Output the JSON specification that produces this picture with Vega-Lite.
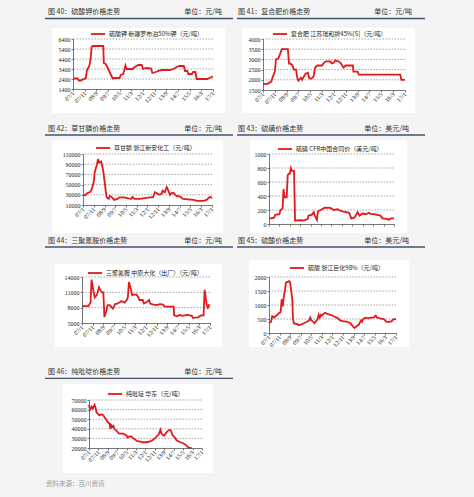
{
"$schema": "https://vega.github.io/schema/vega-lite/v6.json",
"background": "#f4f4f4",
"padding": 0,
"spacing": 0,
"resolve": {"scale": {"color": "independent"}},
"config": {
  "font": "Noto Sans CJK SC",
  "view": {"stroke": null},
  "axis": {"labelFont": "Liberation Serif", "labelFontSize": 6, "labelColor": "#222", "domainColor": "#555", "domainWidth": 0.8, "tickColor": "#555", "tickSize": 2, "tickWidth": 0.8, "labelPadding": 1, "grid": false, "labelOverlap": false, "labelFlush": false},
  "legend": {"symbolType": "stroke", "symbolStrokeWidth": 2.5, "symbolSize": 200, "labelFontSize": 6, "labelColor": "#222", "labelLimit": 300, "padding": 0, "labelOffset": 3},
  "line": {"strokeWidth": 1.8},
  "rule": {"color": "#666", "strokeWidth": 0.6, "strokeDash": [1.5, 1.5]},
  "text": {"fontSize": 7, "color": "#333"}
},
"datasets": {
  "p40": [{"d":"2007/01/01","v":2450},{"d":"2007/05/01","v":2450},{"d":"2007/06/01","v":2250},{"d":"2007/08/01","v":2250},{"d":"2007/09/01","v":2350},{"d":"2007/11/01","v":2400},{"d":"2007/12/01","v":2500},{"d":"2008/01/01","v":3300},{"d":"2008/02/01","v":3500},{"d":"2008/03/01","v":3700},{"d":"2008/04/01","v":4300},{"d":"2008/05/01","v":5600},{"d":"2008/06/01","v":5700},{"d":"2009/03/01","v":5700},{"d":"2009/03/15","v":4000},{"d":"2009/05/01","v":3900},{"d":"2009/06/01","v":3700},{"d":"2009/08/01","v":3200},{"d":"2009/10/01","v":2700},{"d":"2009/11/01","v":2450},{"d":"2010/01/01","v":2500},{"d":"2010/05/01","v":2500},{"d":"2010/06/01","v":2800},{"d":"2010/08/01","v":2900},{"d":"2010/09/01","v":3300},{"d":"2010/10/01","v":3750},{"d":"2010/11/01","v":3400},{"d":"2011/04/01","v":3400},{"d":"2011/06/01","v":3600},{"d":"2011/09/01","v":3800},{"d":"2011/12/01","v":3800},{"d":"2012/01/01","v":3400},{"d":"2012/04/01","v":3500},{"d":"2012/08/01","v":3450},{"d":"2012/09/01","v":3000},{"d":"2012/12/01","v":3100},{"d":"2013/03/01","v":3250},{"d":"2013/05/01","v":3300},{"d":"2013/12/01","v":3300},{"d":"2014/03/01","v":3400},{"d":"2014/06/01","v":3600},{"d":"2014/08/01","v":3700},{"d":"2014/12/01","v":3700},{"d":"2015/01/01","v":3200},{"d":"2015/03/01","v":3200},{"d":"2015/04/01","v":2900},{"d":"2015/07/01","v":2900},{"d":"2015/08/01","v":3100},{"d":"2015/10/01","v":3100},{"d":"2015/11/01","v":2400},{"d":"2016/08/01","v":2400},{"d":"2016/10/01","v":2500},{"d":"2017/01/01","v":2650}],
  "p41": [{"d":"2007/01/01","v":1800},{"d":"2007/05/01","v":1800},{"d":"2007/06/01","v":1850},{"d":"2007/08/01","v":1900},{"d":"2007/09/01","v":2100},{"d":"2007/11/01","v":2400},{"d":"2007/12/01","v":3000},{"d":"2008/02/01","v":3050},{"d":"2008/03/01","v":3200},{"d":"2008/05/01","v":3500},{"d":"2008/10/01","v":3500},{"d":"2008/11/01","v":2800},{"d":"2008/12/01","v":2800},{"d":"2009/02/01","v":2700},{"d":"2009/03/01","v":2500},{"d":"2009/05/01","v":2500},{"d":"2009/06/01","v":2100},{"d":"2009/07/01","v":1950},{"d":"2009/09/01","v":2100},{"d":"2009/10/01","v":2000},{"d":"2009/11/01","v":2100},{"d":"2010/01/01","v":2300},{"d":"2010/03/01","v":2350},{"d":"2010/04/01","v":2100},{"d":"2010/05/01","v":2050},{"d":"2010/07/01","v":2100},{"d":"2010/08/01","v":2200},{"d":"2010/09/01","v":2600},{"d":"2010/11/01","v":2700},{"d":"2011/03/01","v":2700},{"d":"2011/04/01","v":2800},{"d":"2011/06/01","v":2900},{"d":"2011/10/01","v":2900},{"d":"2011/11/01","v":2800},{"d":"2012/01/01","v":2850},{"d":"2012/02/01","v":2950},{"d":"2012/05/01","v":2900},{"d":"2012/07/01","v":2800},{"d":"2012/09/01","v":2600},{"d":"2012/11/01","v":2700},{"d":"2013/05/01","v":2700},{"d":"2013/05/15","v":2400},{"d":"2013/09/01","v":2400},{"d":"2013/10/01","v":2250},{"d":"2016/09/01","v":2250},{"d":"2016/10/01","v":2000},{"d":"2017/01/01","v":2000}],
  "p42": [{"d":"2007/01/01","v":31000},{"d":"2007/03/01","v":29000},{"d":"2007/05/01","v":33000},{"d":"2007/08/01","v":36000},{"d":"2007/09/01","v":40000},{"d":"2007/11/01","v":55000},{"d":"2007/12/01","v":75000},{"d":"2008/02/01","v":90000},{"d":"2008/03/01","v":100000},{"d":"2008/04/01","v":93000},{"d":"2008/06/01","v":95000},{"d":"2008/07/01","v":85000},{"d":"2008/08/01","v":75000},{"d":"2008/10/01","v":40000},{"d":"2008/11/01","v":25000},{"d":"2009/01/01","v":22000},{"d":"2009/02/01","v":28000},{"d":"2009/04/01","v":25000},{"d":"2009/06/01","v":20000},{"d":"2009/09/01","v":22000},{"d":"2009/11/01","v":25000},{"d":"2010/03/01","v":25000},{"d":"2010/07/01","v":23000},{"d":"2010/10/01","v":22000},{"d":"2010/11/01","v":26000},{"d":"2011/01/01","v":22000},{"d":"2011/06/01","v":22000},{"d":"2011/09/01","v":23000},{"d":"2011/12/01","v":24000},{"d":"2012/03/01","v":25000},{"d":"2012/06/01","v":25000},{"d":"2012/08/01","v":35000},{"d":"2012/09/01","v":34000},{"d":"2012/12/01","v":30000},{"d":"2013/02/01","v":32000},{"d":"2013/03/01","v":38000},{"d":"2013/05/01","v":35000},{"d":"2013/07/01","v":45000},{"d":"2013/08/01","v":40000},{"d":"2013/10/01","v":30000},{"d":"2013/11/01","v":33000},{"d":"2014/01/01","v":34000},{"d":"2014/03/01","v":30000},{"d":"2014/04/01","v":28000},{"d":"2014/07/01","v":27000},{"d":"2014/10/01","v":22000},{"d":"2015/03/01","v":21000},{"d":"2015/08/01","v":20000},{"d":"2015/11/01","v":18000},{"d":"2016/02/01","v":18000},{"d":"2016/05/01","v":18000},{"d":"2016/08/01","v":20000},{"d":"2016/11/01","v":26000},{"d":"2017/01/01","v":24000}],
  "p43": [{"d":"2007/01/01","v":80},{"d":"2007/03/01","v":80},{"d":"2007/06/01","v":90},{"d":"2007/07/01","v":130},{"d":"2007/11/01","v":140},{"d":"2007/12/01","v":200},{"d":"2008/02/01","v":220},{"d":"2008/03/01","v":500},{"d":"2008/04/01","v":380},{"d":"2008/06/01","v":380},{"d":"2008/07/01","v":700},{"d":"2008/08/01","v":720},{"d":"2008/09/01","v":720},{"d":"2008/10/01","v":800},{"d":"2008/11/01","v":760},{"d":"2009/01/01","v":760},{"d":"2009/02/01","v":50},{"d":"2009/04/01","v":50},{"d":"2009/07/01","v":55},{"d":"2009/10/01","v":50},{"d":"2010/02/01","v":70},{"d":"2010/03/01","v":120},{"d":"2010/06/01","v":130},{"d":"2010/08/01","v":170},{"d":"2010/09/01","v":120},{"d":"2010/11/01","v":60},{"d":"2010/12/01","v":180},{"d":"2011/01/01","v":190},{"d":"2011/03/01","v":200},{"d":"2011/04/01","v":210},{"d":"2011/06/01","v":230},{"d":"2011/09/01","v":235},{"d":"2011/12/01","v":230},{"d":"2012/02/01","v":210},{"d":"2012/03/01","v":200},{"d":"2012/07/01","v":210},{"d":"2012/08/01","v":200},{"d":"2012/11/01","v":180},{"d":"2013/03/01","v":170},{"d":"2013/06/01","v":160},{"d":"2013/08/01","v":80},{"d":"2013/11/01","v":90},{"d":"2014/01/01","v":140},{"d":"2014/02/01","v":170},{"d":"2014/04/01","v":120},{"d":"2014/07/01","v":150},{"d":"2014/10/01","v":140},{"d":"2015/01/01","v":160},{"d":"2015/03/01","v":140},{"d":"2015/06/01","v":140},{"d":"2015/09/01","v":130},{"d":"2015/12/01","v":120},{"d":"2016/02/01","v":80},{"d":"2016/07/01","v":70},{"d":"2016/08/01","v":60},{"d":"2016/10/01","v":80},{"d":"2017/01/01","v":80}],
  "p44": [{"d":"2007/01/01","v":8300},{"d":"2007/07/01","v":8300},{"d":"2007/09/01","v":9000},{"d":"2007/10/01","v":13500},{"d":"2007/12/01","v":11000},{"d":"2008/01/01","v":10000},{"d":"2008/03/01","v":10500},{"d":"2008/05/01","v":12000},{"d":"2008/06/01","v":11500},{"d":"2008/08/01","v":11000},{"d":"2008/09/01","v":11000},{"d":"2008/10/01","v":6200},{"d":"2008/12/01","v":7500},{"d":"2009/01/01","v":8500},{"d":"2009/03/01","v":8500},{"d":"2009/06/01","v":7800},{"d":"2009/07/01","v":8200},{"d":"2009/08/01","v":8700},{"d":"2009/10/01","v":8800},{"d":"2009/12/01","v":9000},{"d":"2010/02/01","v":9300},{"d":"2010/05/01","v":9000},{"d":"2010/07/01","v":9500},{"d":"2010/08/01","v":10000},{"d":"2010/09/01","v":13000},{"d":"2010/11/01","v":11500},{"d":"2010/12/01","v":10500},{"d":"2011/04/01","v":10600},{"d":"2011/06/01","v":10000},{"d":"2011/07/01","v":9500},{"d":"2011/10/01","v":9500},{"d":"2011/11/01","v":8800},{"d":"2012/01/01","v":9000},{"d":"2012/04/01","v":9500},{"d":"2012/05/01","v":8800},{"d":"2012/08/01","v":8600},{"d":"2012/11/01","v":8500},{"d":"2013/02/01","v":8700},{"d":"2013/05/01","v":8600},{"d":"2013/06/01","v":8300},{"d":"2013/08/01","v":8200},{"d":"2014/03/01","v":8200},{"d":"2014/03/15","v":6500},{"d":"2014/06/01","v":6300},{"d":"2014/09/01","v":6600},{"d":"2014/10/01","v":6400},{"d":"2015/01/01","v":6500},{"d":"2015/04/01","v":6600},{"d":"2015/08/01","v":6400},{"d":"2015/09/01","v":6000},{"d":"2016/02/01","v":6100},{"d":"2016/03/01","v":6300},{"d":"2016/05/01","v":6500},{"d":"2016/07/01","v":6500},{"d":"2016/08/01","v":11500},{"d":"2016/10/01","v":8500},{"d":"2016/11/01","v":8000},{"d":"2016/12/01","v":8500},{"d":"2017/01/01","v":8400}],
  "p45": [{"d":"2007/01/01","v":350},{"d":"2007/03/01","v":400},{"d":"2007/04/01","v":600},{"d":"2007/06/01","v":550},{"d":"2007/07/01","v":600},{"d":"2007/09/01","v":650},{"d":"2007/10/01","v":700},{"d":"2007/12/01","v":750},{"d":"2008/01/01","v":1200},{"d":"2008/02/01","v":950},{"d":"2008/03/01","v":1300},{"d":"2008/04/01","v":1500},{"d":"2008/05/01","v":1800},{"d":"2008/08/01","v":1850},{"d":"2008/09/01","v":1800},{"d":"2008/10/01","v":1500},{"d":"2008/11/01","v":1200},{"d":"2008/11/20","v":500},{"d":"2008/12/15","v":350},{"d":"2009/02/01","v":330},{"d":"2009/04/01","v":320},{"d":"2009/05/01","v":280},{"d":"2009/07/01","v":300},{"d":"2009/10/01","v":350},{"d":"2010/01/01","v":400},{"d":"2010/03/01","v":450},{"d":"2010/04/01","v":550},{"d":"2010/05/01","v":450},{"d":"2010/07/01","v":400},{"d":"2010/08/01","v":350},{"d":"2010/11/01","v":500},{"d":"2010/12/01","v":650},{"d":"2011/01/01","v":550},{"d":"2011/02/01","v":650},{"d":"2011/03/01","v":620},{"d":"2011/05/01","v":700},{"d":"2011/06/01","v":720},{"d":"2011/08/01","v":680},{"d":"2011/11/01","v":650},{"d":"2012/01/01","v":620},{"d":"2012/02/01","v":600},{"d":"2012/05/01","v":550},{"d":"2012/07/01","v":500},{"d":"2012/08/01","v":450},{"d":"2012/11/01","v":420},{"d":"2013/03/01","v":400},{"d":"2013/06/01","v":350},{"d":"2013/07/01","v":300},{"d":"2013/09/01","v":200},{"d":"2013/10/01","v":180},{"d":"2013/12/01","v":250},{"d":"2014/02/01","v":300},{"d":"2014/03/01","v":380},{"d":"2014/04/01","v":450},{"d":"2014/05/01","v":400},{"d":"2014/06/01","v":500},{"d":"2014/08/01","v":550},{"d":"2014/11/01","v":530},{"d":"2015/02/01","v":550},{"d":"2015/04/01","v":560},{"d":"2015/06/01","v":620},{"d":"2015/07/01","v":550},{"d":"2015/10/01","v":520},{"d":"2016/01/01","v":500},{"d":"2016/02/01","v":480},{"d":"2016/04/01","v":400},{"d":"2016/07/01","v":400},{"d":"2016/09/01","v":420},{"d":"2016/10/01","v":480},{"d":"2017/01/01","v":500}],
  "p46": [{"d":"2007/01/01","v":65000},{"d":"2007/02/01","v":60000},{"d":"2007/04/01","v":63000},{"d":"2007/05/01","v":61000},{"d":"2007/07/01","v":65000},{"d":"2007/08/01","v":62000},{"d":"2007/09/01","v":57000},{"d":"2007/11/01","v":55000},{"d":"2007/12/01","v":54000},{"d":"2008/02/01","v":55000},{"d":"2008/03/01","v":55000},{"d":"2008/05/01","v":53000},{"d":"2008/07/01","v":50000},{"d":"2008/09/01","v":47000},{"d":"2008/11/01","v":45000},{"d":"2008/11/20","v":40000},{"d":"2008/12/15","v":44000},{"d":"2009/02/01","v":42000},{"d":"2009/03/01","v":43000},{"d":"2009/04/01","v":40000},{"d":"2009/06/01","v":38000},{"d":"2009/08/01","v":36000},{"d":"2009/09/01","v":35000},{"d":"2010/01/01","v":35000},{"d":"2010/03/01","v":34000},{"d":"2010/05/01","v":33000},{"d":"2010/06/01","v":31000},{"d":"2010/08/01","v":32000},{"d":"2010/10/01","v":32000},{"d":"2010/12/01","v":30000},{"d":"2011/03/01","v":28000},{"d":"2011/05/01","v":27000},{"d":"2011/07/01","v":27000},{"d":"2011/10/01","v":26000},{"d":"2012/02/01","v":26000},{"d":"2012/06/01","v":27000},{"d":"2012/09/01","v":28500},{"d":"2012/12/01","v":31000},{"d":"2013/03/01","v":34000},{"d":"2013/05/01","v":39000},{"d":"2013/06/01","v":35000},{"d":"2013/08/01","v":33000},{"d":"2013/09/01","v":33000},{"d":"2013/11/01","v":36000},{"d":"2014/01/01","v":38000},{"d":"2014/03/01","v":39000},{"d":"2014/04/01","v":38000},{"d":"2014/06/01","v":33000},{"d":"2014/08/01","v":31000},{"d":"2014/10/01","v":28000},{"d":"2015/02/01","v":26000},{"d":"2015/05/01","v":25000},{"d":"2015/08/01","v":23000},{"d":"2015/10/01","v":21000},{"d":"2015/12/01","v":20000},{"d":"2016/02/01","v":20000}]
},
"vconcat": [
 {"spacing": 0, "bounds": "flush", "resolve": {"scale": {"color": "independent"}}, "hconcat": [
  {"width": 73, "height": 1, "data": {"values": []}, "mark": "point"},
  {"width": 140, "height": 50, "resolve": {"axis": {"x": "independent", "y": "independent"}}, "layer": [
    {"data": {"values": [{}]}, "mark": {"type": "rect", "opacity": 0}, "encoding": {"x": {"datum": {"year": 2007, "month": 1, "date": -860}, "type": "temporal", "axis": null}, "x2": {"datum": {"year": 2007, "month": 1, "date": 4228}}, "y": {"datum": 10250, "type": "quantitative", "axis": null}, "y2": {"datum": -1650}}},
    {"data": {"values": [{}]}, "mark": {"type": "rect", "fill": "#ffffff"}, "encoding": {"x": {"datum": {"year": 2007, "month": 1, "date": -547}, "type": "temporal", "axis": null}, "x2": {"datum": {"year": 2007, "month": 1, "date": 3967}}, "y": {"datum": 7500, "type": "quantitative", "axis": null}, "y2": {"datum": -1000}}},
    {"data": {"values": [{"g": 2400}, {"g": 3400}, {"g": 4400}, {"g": 5400}, {"g": 6400}]}, "mark": {"type": "rule"}, "encoding": {"y": {"field": "g", "type": "quantitative", "axis": null}}},
    {"data": {"values": [{}]}, "mark": {"type": "rule", "color": "#44546a", "strokeWidth": 1.3, "strokeDash": []}, "encoding": {"x": {"datum": {"year": 2007, "month": 1, "date": -730}, "type": "temporal", "axis": null}, "x2": {"datum": {"year": 2007, "month": 1, "date": 4176}}, "y": {"datum": 8450, "type": "quantitative", "axis": null}}},
    {"data": {"values": [{"t": "图 40：硫酸钾价格走势"}]}, "mark": {"type": "text", "align": "left", "baseline": "middle"}, "encoding": {"x": {"datum": {"year": 2007, "month": 1, "date": -651}, "type": "temporal", "axis": null}, "y": {"datum": 9150, "type": "quantitative", "axis": null}, "text": {"field": "t"}}},
    {"data": {"values": [{"t": "单位：元/吨"}]}, "mark": {"type": "text", "align": "right", "baseline": "middle"}, "encoding": {"x": {"datum": {"year": 2007, "month": 1, "date": 3889}, "type": "temporal", "axis": null}, "y": {"datum": 9150, "type": "quantitative", "axis": null}, "text": {"field": "t"}}},
    {"data": {"name": "p40"}, "mark": {"type": "line"}, "encoding": {
      "x": {"field": "d", "type": "temporal", "scale": {"domain": [{"year": 2007, "month": 1, "date": 1}, {"year": 2017, "month": 1, "date": 1}], "nice": false}, "axis": {"zindex": 2, "title": null, "format": "%y/%-m", "labelOverlap": false, "labelFlush": false, "labelAngle": -45, "labelAlign": "right", "labelBaseline": "middle", "grid": false, "values": [{"year":2007,"month":1},{"year":2007,"month":11},{"year":2008,"month":9},{"year":2009,"month":7},{"year":2010,"month":5},{"year":2011,"month":3},{"year":2012,"month":1},{"year":2012,"month":11},{"year":2013,"month":9},{"year":2014,"month":7},{"year":2015,"month":5},{"year":2016,"month":3},{"year":2017,"month":1}]}},
      "y": {"field": "v", "type": "quantitative", "scale": {"domain": [1400, 6400], "nice": false, "zero": false}, "axis": {"zindex": 2, "title": null, "format": "d", "labelOverlap": false, "labelFlush": false, "grid": false, "values": [1400, 2400, 3400, 4400, 5400, 6400]}},
      "color": {"datum": "硫酸钾 新疆罗布泊50%钾（元/吨）", "scale": {"range": ["#e3191c"]}, "legend": {"title": null, "orient": "none", "legendX": 17, "legendY": -13}}}}
  ]},
  {"width": 50, "height": 1, "data": {"values": []}, "mark": "point"},
  {"width": 142, "height": 51, "resolve": {"axis": {"x": "independent", "y": "independent"}}, "layer": [
    {"data": {"values": [{}]}, "mark": {"type": "rect", "opacity": 0}, "encoding": {"x": {"datum": {"year": 2007, "month": 1, "date": -694}, "type": "temporal", "axis": null}, "x2": {"datum": {"year": 2007, "month": 1, "date": 5416}}, "y": {"datum": 5887, "type": "quantitative", "axis": null}, "y2": {"datum": 54}}},
    {"data": {"values": [{}]}, "mark": {"type": "rect", "fill": "#ffffff"}, "encoding": {"x": {"datum": {"year": 2007, "month": 1, "date": -539}, "type": "temporal", "axis": null}, "x2": {"datum": {"year": 2007, "month": 1, "date": 3911}}, "y": {"datum": 4539, "type": "quantitative", "axis": null}, "y2": {"datum": 372}}},
    {"data": {"values": [{"g": 2000}, {"g": 2500}, {"g": 3000}, {"g": 3500}, {"g": 4000}]}, "mark": {"type": "rule"}, "encoding": {"y": {"field": "g", "type": "quantitative", "axis": null}}},
    {"data": {"values": [{}]}, "mark": {"type": "rule", "color": "#44546a", "strokeWidth": 1.3, "strokeDash": []}, "encoding": {"x": {"datum": {"year": 2007, "month": 1, "date": -668}, "type": "temporal", "axis": null}, "x2": {"datum": {"year": 2007, "month": 1, "date": 4168}}, "y": {"datum": 5005, "type": "quantitative", "axis": null}}},
    {"data": {"values": [{"t": "图 41：复合肥价格走势"}]}, "mark": {"type": "text", "align": "left", "baseline": "middle"}, "encoding": {"x": {"datum": {"year": 2007, "month": 1, "date": -642}, "type": "temporal", "axis": null}, "y": {"datum": 5348, "type": "quantitative", "axis": null}, "text": {"field": "t"}}},
    {"data": {"values": [{"t": "单位：元/吨"}]}, "mark": {"type": "text", "align": "right", "baseline": "middle"}, "encoding": {"x": {"datum": {"year": 2007, "month": 1, "date": 3834}, "type": "temporal", "axis": null}, "y": {"datum": 5348, "type": "quantitative", "axis": null}, "text": {"field": "t"}}},
    {"data": {"name": "p41"}, "mark": {"type": "line"}, "encoding": {
      "x": {"field": "d", "type": "temporal", "scale": {"domain": [{"year": 2007, "month": 1, "date": 1}, {"year": 2017, "month": 1, "date": 1}], "nice": false}, "axis": {"zindex": 2, "title": null, "format": "%y/%-m", "labelOverlap": false, "labelFlush": false, "labelAngle": -45, "labelAlign": "right", "labelBaseline": "middle", "grid": false, "values": [{"year":2007,"month":1},{"year":2007,"month":11},{"year":2008,"month":9},{"year":2009,"month":7},{"year":2010,"month":5},{"year":2011,"month":3},{"year":2012,"month":1},{"year":2012,"month":11},{"year":2013,"month":9},{"year":2014,"month":7},{"year":2015,"month":5},{"year":2016,"month":3},{"year":2017,"month":1}]}},
      "y": {"field": "v", "type": "quantitative", "scale": {"domain": [1500, 4000], "nice": false, "zero": false}, "axis": {"zindex": 2, "title": null, "format": "d", "labelOverlap": false, "labelFlush": false, "grid": false, "values": [1500, 2000, 2500, 3000, 3500, 4000]}},
      "color": {"datum": "复合肥 江苏瑞和牌45%[S]（元/吨）", "scale": {"range": ["#e3191c"]}, "legend": {"title": null, "orient": "none", "legendX": 9, "legendY": -13}}}}
  ]}
 ]},
 {"spacing": 0, "bounds": "flush", "resolve": {"scale": {"color": "independent"}}, "hconcat": [
  {"width": 83, "height": 1, "data": {"values": []}, "mark": "point"},
  {"width": 129, "height": 51, "resolve": {"axis": {"x": "independent", "y": "independent"}}, "layer": [
    {"data": {"values": [{}]}, "mark": {"type": "rect", "opacity": 0}, "encoding": {"x": {"datum": {"year": 2007, "month": 1, "date": -1217}, "type": "temporal", "axis": null}, "x2": {"datum": {"year": 2007, "month": 1, "date": 4305}}, "y": {"datum": 175687, "type": "quantitative", "axis": null}, "y2": {"datum": -45882}}},
    {"data": {"values": [{}]}, "mark": {"type": "rect", "fill": "#ffffff"}, "encoding": {"x": {"datum": {"year": 2007, "month": 1, "date": -877}, "type": "temporal", "axis": null}, "x2": {"datum": {"year": 2007, "month": 1, "date": 3965}}, "y": {"datum": 137451, "type": "quantitative", "axis": null}, "y2": {"datum": -44902}}},
    {"data": {"values": [{"g": 30000}, {"g": 50000}, {"g": 70000}, {"g": 90000}, {"g": 110000}]}, "mark": {"type": "rule"}, "encoding": {"y": {"field": "g", "type": "quantitative", "axis": null}}},
    {"data": {"values": [{}]}, "mark": {"type": "rule", "color": "#44546a", "strokeWidth": 1.3, "strokeDash": []}, "encoding": {"x": {"datum": {"year": 2007, "month": 1, "date": -1075}, "type": "temporal", "axis": null}, "x2": {"datum": {"year": 2007, "month": 1, "date": 4249}}, "y": {"datum": 147255, "type": "quantitative", "axis": null}}},
    {"data": {"values": [{"t": "图 42：草甘膦价格走势"}]}, "mark": {"type": "text", "align": "left", "baseline": "middle"}, "encoding": {"x": {"datum": {"year": 2007, "month": 1, "date": -990}, "type": "temporal", "axis": null}, "y": {"datum": 158432, "type": "quantitative", "axis": null}, "text": {"field": "t"}}},
    {"data": {"values": [{"t": "单位：元/吨"}]}, "mark": {"type": "text", "align": "right", "baseline": "middle"}, "encoding": {"x": {"datum": {"year": 2007, "month": 1, "date": 3937}, "type": "temporal", "axis": null}, "y": {"datum": 158432, "type": "quantitative", "axis": null}, "text": {"field": "t"}}},
    {"data": {"name": "p42"}, "mark": {"type": "line"}, "encoding": {
      "x": {"field": "d", "type": "temporal", "scale": {"domain": [{"year": 2007, "month": 1, "date": 1}, {"year": 2017, "month": 1, "date": 1}], "nice": false}, "axis": {"zindex": 2, "title": null, "format": "%y/%-m", "labelOverlap": false, "labelFlush": false, "labelAngle": -45, "labelAlign": "right", "labelBaseline": "middle", "grid": false, "values": [{"year":2007,"month":1},{"year":2007,"month":11},{"year":2008,"month":9},{"year":2009,"month":7},{"year":2010,"month":5},{"year":2011,"month":3},{"year":2012,"month":1},{"year":2012,"month":11},{"year":2013,"month":9},{"year":2014,"month":7},{"year":2015,"month":5},{"year":2016,"month":3},{"year":2017,"month":1}]}},
      "y": {"field": "v", "type": "quantitative", "scale": {"domain": [10000, 110000], "nice": false, "zero": false}, "axis": {"zindex": 2, "title": null, "format": "d", "labelOverlap": false, "labelFlush": false, "grid": false, "values": [10000, 30000, 50000, 70000, 90000, 110000]}},
      "color": {"datum": "草甘膦 浙江新安化工（元/吨）", "scale": {"range": ["#e3191c"]}, "legend": {"title": null, "orient": "none", "legendX": 12, "legendY": -14}}}}
  ]},
  {"width": 57, "height": 1, "data": {"values": []}, "mark": "point"},
  {"width": 125, "height": 70, "resolve": {"axis": {"x": "independent", "y": "independent"}}, "layer": [
    {"data": {"values": [{}]}, "mark": {"type": "rect", "opacity": 0}, "encoding": {"x": {"datum": {"year": 2007, "month": 1, "date": -963}, "type": "temporal", "axis": null}, "x2": {"datum": {"year": 2007, "month": 1, "date": 5977}}, "y": {"datum": 1478.6, "type": "quantitative", "axis": null}, "y2": {"datum": -135.7}}},
    {"data": {"values": [{}]}, "mark": {"type": "rect", "fill": "#ffffff"}, "encoding": {"x": {"datum": {"year": 2007, "month": 1, "date": -554}, "type": "temporal", "axis": null}, "x2": {"datum": {"year": 2007, "month": 1, "date": 4034}}, "y": {"datum": 1200, "type": "quantitative", "axis": null}, "y2": {"datum": -128.6}}},
    {"data": {"values": [{"g": 200}, {"g": 400}, {"g": 600}, {"g": 800}, {"g": 1000}]}, "mark": {"type": "rule"}, "encoding": {"y": {"field": "g", "type": "quantitative", "axis": null}}},
    {"data": {"values": [{}]}, "mark": {"type": "rule", "color": "#44546a", "strokeWidth": 1.3, "strokeDash": []}, "encoding": {"x": {"datum": {"year": 2007, "month": 1, "date": -934}, "type": "temporal", "axis": null}, "x2": {"datum": {"year": 2007, "month": 1, "date": 4560}}, "y": {"datum": 1271.4, "type": "quantitative", "axis": null}}},
    {"data": {"values": [{"t": "图 43：硫磺价格走势"}]}, "mark": {"type": "text", "align": "left", "baseline": "middle"}, "encoding": {"x": {"datum": {"year": 2007, "month": 1, "date": -905}, "type": "temporal", "axis": null}, "y": {"datum": 1352.9, "type": "quantitative", "axis": null}, "text": {"field": "t"}}},
    {"data": {"values": [{"t": "单位：美元/吨"}]}, "mark": {"type": "text", "align": "right", "baseline": "middle"}, "encoding": {"x": {"datum": {"year": 2007, "month": 1, "date": 4092}, "type": "temporal", "axis": null}, "y": {"datum": 1352.9, "type": "quantitative", "axis": null}, "text": {"field": "t"}}},
    {"data": {"name": "p43"}, "mark": {"type": "line"}, "encoding": {
      "x": {"field": "d", "type": "temporal", "scale": {"domain": [{"year": 2007, "month": 1, "date": 1}, {"year": 2017, "month": 1, "date": 1}], "nice": false}, "axis": {"zindex": 2, "title": null, "labels": false, "grid": false, "values": [{"year":2007,"month":1},{"year":2007,"month":11},{"year":2008,"month":9},{"year":2009,"month":7},{"year":2010,"month":5},{"year":2011,"month":3},{"year":2012,"month":1},{"year":2012,"month":11},{"year":2013,"month":9},{"year":2014,"month":7},{"year":2015,"month":5},{"year":2016,"month":3},{"year":2017,"month":1}]}},
      "y": {"field": "v", "type": "quantitative", "scale": {"domain": [0, 1000], "nice": false, "zero": false}, "axis": {"zindex": 2, "title": null, "format": "d", "labelOverlap": false, "labelFlush": false, "grid": false, "values": [0, 200, 400, 600, 800, 1000]}},
      "color": {"datum": "硫磺 CFR中国合同价（美元/吨）", "scale": {"range": ["#e3191c"]}, "legend": {"title": null, "orient": "none", "legendX": 8, "legendY": -13}}}}
  ]}
 ]},
 {"spacing": 0, "bounds": "flush", "resolve": {"scale": {"color": "independent"}}, "hconcat": [
  {"width": 82, "height": 1, "data": {"values": []}, "mark": "point"},
  {"width": 128, "height": 46, "resolve": {"axis": {"x": "independent", "y": "independent"}}, "layer": [
    {"data": {"values": [{}]}, "mark": {"type": "rect", "opacity": 0}, "encoding": {"x": {"datum": {"year": 2007, "month": 1, "date": -1198}, "type": "temporal", "axis": null}, "x2": {"datum": {"year": 2007, "month": 1, "date": 4367}}, "y": {"datum": 22315, "type": "quantitative", "axis": null}, "y2": {"datum": -1163}}},
    {"data": {"values": [{}]}, "mark": {"type": "rect", "fill": "#ffffff"}, "encoding": {"x": {"datum": {"year": 2007, "month": 1, "date": -770}, "type": "temporal", "axis": null}, "x2": {"datum": {"year": 2007, "month": 1, "date": 3996}}, "y": {"datum": 16543, "type": "quantitative", "axis": null}, "y2": {"datum": 304}}},
    {"data": {"values": [{"g": 8000}, {"g": 11000}, {"g": 14000}]}, "mark": {"type": "rule"}, "encoding": {"y": {"field": "g", "type": "quantitative", "axis": null}}},
    {"data": {"values": [{}]}, "mark": {"type": "rule", "color": "#44546a", "strokeWidth": 1.3, "strokeDash": []}, "encoding": {"x": {"datum": {"year": 2007, "month": 1, "date": -1055}, "type": "temporal", "axis": null}, "x2": {"datum": {"year": 2007, "month": 1, "date": 4310}}, "y": {"datum": 19870, "type": "quantitative", "axis": null}}},
    {"data": {"values": [{"t": "图 44：三聚氰胺价格走势"}]}, "mark": {"type": "text", "align": "left", "baseline": "middle"}, "encoding": {"x": {"datum": {"year": 2007, "month": 1, "date": -969}, "type": "temporal", "axis": null}, "y": {"datum": 20985, "type": "quantitative", "axis": null}, "text": {"field": "t"}}},
    {"data": {"values": [{"t": "单位：元/吨"}]}, "mark": {"type": "text", "align": "right", "baseline": "middle"}, "encoding": {"x": {"datum": {"year": 2007, "month": 1, "date": 3996}, "type": "temporal", "axis": null}, "y": {"datum": 20985, "type": "quantitative", "axis": null}, "text": {"field": "t"}}},
    {"data": {"name": "p44"}, "mark": {"type": "line"}, "encoding": {
      "x": {"field": "d", "type": "temporal", "scale": {"domain": [{"year": 2007, "month": 1, "date": 1}, {"year": 2017, "month": 1, "date": 1}], "nice": false}, "axis": {"zindex": 2, "title": null, "format": "%y/%-m", "labelOverlap": false, "labelFlush": false, "labelAngle": -45, "labelAlign": "right", "labelBaseline": "middle", "grid": false, "values": [{"year":2007,"month":1},{"year":2007,"month":11},{"year":2008,"month":9},{"year":2009,"month":7},{"year":2010,"month":5},{"year":2011,"month":3},{"year":2012,"month":1},{"year":2012,"month":11},{"year":2013,"month":9},{"year":2014,"month":7},{"year":2015,"month":5},{"year":2016,"month":3},{"year":2017,"month":1}]}},
      "y": {"field": "v", "type": "quantitative", "scale": {"domain": [5000, 14000], "nice": false, "zero": false}, "axis": {"zindex": 2, "title": null, "format": "d", "labelOverlap": false, "labelFlush": false, "grid": false, "values": [5000, 8000, 11000, 14000]}},
      "color": {"datum": "三聚氰胺 中原大化（出厂）（元/吨）", "scale": {"range": ["#e3191c"]}, "legend": {"title": null, "orient": "none", "legendX": 5, "legendY": -12}}}}
  ]},
  {"width": 59, "height": 1, "data": {"values": []}, "mark": "point"},
  {"width": 127, "height": 56, "resolve": {"axis": {"x": "independent", "y": "independent"}}, "layer": [
    {"data": {"values": [{}]}, "mark": {"type": "rect", "opacity": 0}, "encoding": {"x": {"datum": {"year": 2007, "month": 1, "date": -948}, "type": "temporal", "axis": null}, "x2": {"datum": {"year": 2007, "month": 1, "date": 5883}}, "y": {"datum": 3518, "type": "quantitative", "axis": null}, "y2": {"datum": -768}}},
    {"data": {"values": [{}]}, "mark": {"type": "rect", "fill": "#ffffff"}, "encoding": {"x": {"datum": {"year": 2007, "month": 1, "date": -574}, "type": "temporal", "axis": null}, "x2": {"datum": {"year": 2007, "month": 1, "date": 4028}}, "y": {"datum": 2607, "type": "quantitative", "axis": null}, "y2": {"datum": -500}}},
    {"data": {"values": [{"g": 500}, {"g": 1000}, {"g": 1500}, {"g": 2000}]}, "mark": {"type": "rule"}, "encoding": {"y": {"field": "g", "type": "quantitative", "axis": null}}},
    {"data": {"values": [{}]}, "mark": {"type": "rule", "color": "#44546a", "strokeWidth": 1.3, "strokeDash": []}, "encoding": {"x": {"datum": {"year": 2007, "month": 1, "date": -919}, "type": "temporal", "axis": null}, "x2": {"datum": {"year": 2007, "month": 1, "date": 4488}}, "y": {"datum": 3071, "type": "quantitative", "axis": null}}},
    {"data": {"values": [{"t": "图 45：硫酸价格走势"}]}, "mark": {"type": "text", "align": "left", "baseline": "middle"}, "encoding": {"x": {"datum": {"year": 2007, "month": 1, "date": -891}, "type": "temporal", "axis": null}, "y": {"datum": 3275, "type": "quantitative", "axis": null}, "text": {"field": "t"}}},
    {"data": {"values": [{"t": "单位：美元/吨"}]}, "mark": {"type": "text", "align": "right", "baseline": "middle"}, "encoding": {"x": {"datum": {"year": 2007, "month": 1, "date": 4028}, "type": "temporal", "axis": null}, "y": {"datum": 3275, "type": "quantitative", "axis": null}, "text": {"field": "t"}}},
    {"data": {"name": "p45"}, "mark": {"type": "line"}, "encoding": {
      "x": {"field": "d", "type": "temporal", "scale": {"domain": [{"year": 2007, "month": 1, "date": 1}, {"year": 2017, "month": 1, "date": 1}], "nice": false}, "axis": {"zindex": 2, "title": null, "format": "%y/%-m", "labelOverlap": false, "labelFlush": false, "labelAngle": -45, "labelAlign": "right", "labelBaseline": "middle", "grid": false, "values": [{"year":2007,"month":1},{"year":2007,"month":11},{"year":2008,"month":9},{"year":2009,"month":7},{"year":2010,"month":5},{"year":2011,"month":3},{"year":2012,"month":1},{"year":2012,"month":11},{"year":2013,"month":9},{"year":2014,"month":7},{"year":2015,"month":5},{"year":2016,"month":3},{"year":2017,"month":1}]}},
      "y": {"field": "v", "type": "quantitative", "scale": {"domain": [0, 2000], "nice": false, "zero": false}, "axis": {"zindex": 2, "title": null, "format": "d", "labelOverlap": false, "labelFlush": false, "grid": false, "values": [0, 500, 1000, 1500, 2000]}},
      "color": {"datum": "硫酸 浙江巨化98%（元/吨）", "scale": {"range": ["#e3191c"]}, "legend": {"title": null, "orient": "none", "legendX": 20, "legendY": -17}}}}
  ]}
 ]},
 {"spacing": 0, "bounds": "flush", "resolve": {"scale": {"color": "independent"}}, "hconcat": [
  {"width": 89, "height": 1, "data": {"values": []}, "mark": "point"},
  {"width": 113, "height": 48, "resolve": {"axis": {"x": "independent", "y": "independent"}}, "layer": [
    {"data": {"values": [{}]}, "mark": {"type": "rect", "opacity": 0}, "encoding": {"x": {"datum": {"year": 2007, "month": 1, "date": -1583}, "type": "temporal", "axis": null}, "x2": {"datum": {"year": 2007, "month": 1, "date": 12431}}, "y": {"datum": 116354, "type": "quantitative", "axis": null}, "y2": {"datum": -30521}}},
    {"data": {"values": [{}]}, "mark": {"type": "rect", "fill": "#ffffff"}, "encoding": {"x": {"datum": {"year": 2007, "month": 1, "date": -840}, "type": "temporal", "axis": null}, "x2": {"datum": {"year": 2007, "month": 1, "date": 4010}}, "y": {"datum": 86667, "type": "quantitative", "axis": null}, "y2": {"datum": -6042}}},
    {"data": {"values": [{"g": 30000}, {"g": 40000}, {"g": 50000}, {"g": 60000}, {"g": 70000}]}, "mark": {"type": "rule"}, "encoding": {"y": {"field": "g", "type": "quantitative", "axis": null}}},
    {"data": {"values": [{}]}, "mark": {"type": "rule", "color": "#44546a", "strokeWidth": 1.3, "strokeDash": []}, "encoding": {"x": {"datum": {"year": 2007, "month": 1, "date": -1421}, "type": "temporal", "axis": null}, "x2": {"datum": {"year": 2007, "month": 1, "date": 4656}}, "y": {"datum": 92604, "type": "quantitative", "axis": null}}},
    {"data": {"values": [{"t": "图 46：纯吡啶价格走势"}]}, "mark": {"type": "text", "align": "left", "baseline": "middle"}, "encoding": {"x": {"datum": {"year": 2007, "month": 1, "date": -1324}, "type": "temporal", "axis": null}, "y": {"datum": 99479, "type": "quantitative", "axis": null}, "text": {"field": "t"}}},
    {"data": {"values": [{"t": "单位：元/吨"}]}, "mark": {"type": "text", "align": "right", "baseline": "middle"}, "encoding": {"x": {"datum": {"year": 2007, "month": 1, "date": 4300}, "type": "temporal", "axis": null}, "y": {"datum": 99479, "type": "quantitative", "axis": null}, "text": {"field": "t"}}},
    {"data": {"values": [{"t": "资料来源：百川资讯"}]}, "mark": {"type": "text", "align": "left", "baseline": "middle", "color": "#999999", "fontSize": 6.5}, "encoding": {"x": {"datum": {"year": 2007, "month": 1, "date": -1389}, "type": "temporal", "axis": null}, "y": {"datum": -17500, "type": "quantitative", "axis": null}, "text": {"field": "t"}}},
    {"data": {"name": "p46"}, "mark": {"type": "line"}, "encoding": {
      "x": {"field": "d", "type": "temporal", "scale": {"domain": [{"year": 2007, "month": 1, "date": 1}, {"year": 2017, "month": 1, "date": 1}], "nice": false}, "axis": {"zindex": 2, "title": null, "format": "%y/%-m", "labelOverlap": false, "labelFlush": false, "labelAngle": -45, "labelAlign": "right", "labelBaseline": "middle", "grid": false, "values": [{"year":2007,"month":1},{"year":2007,"month":11},{"year":2008,"month":9},{"year":2009,"month":7},{"year":2010,"month":5},{"year":2011,"month":3},{"year":2012,"month":1},{"year":2012,"month":11},{"year":2013,"month":9},{"year":2014,"month":7},{"year":2015,"month":5},{"year":2016,"month":3},{"year":2017,"month":1}]}},
      "y": {"field": "v", "type": "quantitative", "scale": {"domain": [20000, 70000], "nice": false, "zero": false}, "axis": {"zindex": 2, "title": null, "format": "d", "labelOverlap": false, "labelFlush": false, "grid": false, "values": [20000, 30000, 40000, 50000, 60000, 70000]}},
      "color": {"datum": "纯吡啶 华东（元/吨）", "scale": {"range": ["#e3191c"]}, "legend": {"title": null, "orient": "none", "legendX": 18, "legendY": -14}}}}
  ]}
 ]}
]
}
